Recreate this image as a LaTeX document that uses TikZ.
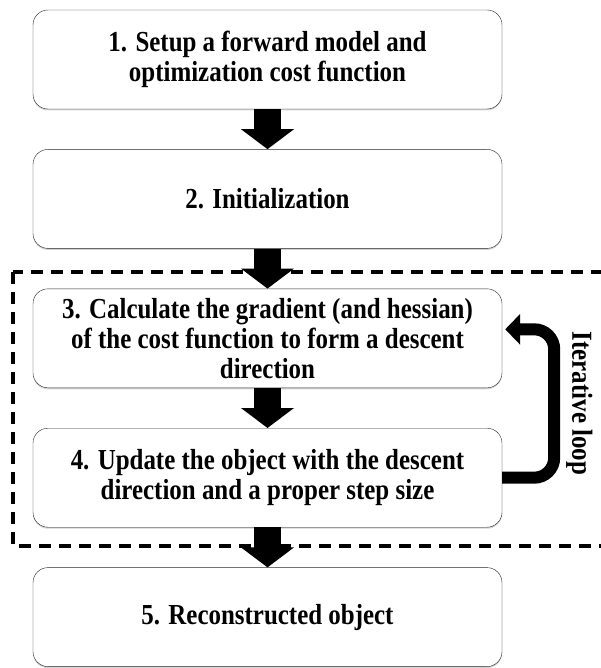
\documentclass[tikz,border=0pt]{standalone}
\usepackage{fontspec}
\setmainfont[FakeStretch=0.86]{Liberation Serif}
\usepackage{tikz}
\usetikzlibrary{positioning,arrows.meta,shadows}
\tikzset{stepbox/.style={rectangle,draw=black!85,thin,rounded corners=15pt,fill=white,
	  minimum width=469pt,minimum height=99pt,align=center,
	  font=\fontsize{29}{30}\selectfont\bfseries,
	  drop shadow={shadow xshift=0pt,shadow yshift=-1.5pt,opacity=0.35}},
	 flowarrow/.style={line width=27pt,-{Triangle[length=20pt,width=52pt]}},
	 looparrow/.style={line width=12pt,rounded corners=20pt,-{Triangle[length=15pt,width=30pt]}},
	 loopbox/.style={dashed,line width=3.5pt,dash pattern=on 12pt off 8pt},
	 node distance = 40pt
	 }

\begin{document}
\begin{tikzpicture}[x=1pt,y=1pt] % iterative reconstruction flow
	\useasboundingbox (0,0) rectangle (601,-668);
	\node[stepbox] (s1) at (267.5,-59.5) {1. Setup a forward model and\\optimization cost function};
	\node[stepbox] (s2) [below= of s1] {2. Initialization};
	\node[stepbox] (s3) [below= of s2] {3. Calculate the gradient (and hessian)\\of the cost function to form a descent\\direction};
	\node[stepbox] (s4) [below= of s3] {4. Update the object with the descent\\direction and a proper step size};
	\node[stepbox] (s5) [below= of s4] {5. Reconstructed object};
	\draw[loopbox] (13,-272) rectangle (604,-546);
	\draw[flowarrow] (s1) to (s2);
	\draw[flowarrow] (s2) to (s3);
	\draw[flowarrow] (s3) to (s4);
	\draw[flowarrow] (s4) to (s5);
	\draw[looparrow,shorten >=3pt] (s4.east) -- ++(52,0) |- ([yshift=9pt]s3.east)
	  node[pos=0.25,rotate=-90,anchor=south,inner sep=6pt,font=\fontsize{29}{30}\selectfont\bfseries] (loop) {Iterative loop};
\end{tikzpicture}
\end{document}
